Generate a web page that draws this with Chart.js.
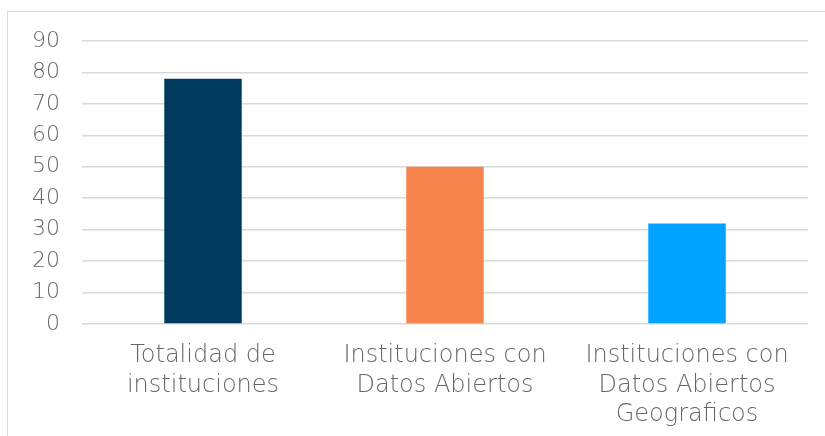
<!DOCTYPE html>
<html>
<head>
<meta charset="utf-8">
<script src="https://cdn.jsdelivr.net/npm/chart.js@4/dist/chart.umd.min.js"></script>
<style>
  html, body { margin: 0; padding: 0; background: #fff; overflow: hidden; }
  #wrap { position: relative; width: 825px; height: 436px; }
  #frame { position: absolute; left: 7px; top: 11px; width: 830px; height: 440px; border: 1.5px solid #d9d9d9; box-sizing: border-box; }
  #myChart { position: absolute; left: 0; top: 0; }
</style>
</head>
<body>
<div id="wrap">
  <div id="frame"></div>
  <canvas id="myChart" width="825" height="436"></canvas>
</div>
<script>
var categories = [
    ['Totalidad de', 'instituciones'],
    ['Instituciones con', 'Datos Abiertos'],
    ['Instituciones con', 'Datos Abiertos', 'Geograficos']
];
var values = [78, 50, 32];
var barColors = ['#003a5c', '#f7834c', '#00a3ff'];
var yTicks = [0, 10, 20, 30, 40, 50, 60, 70, 80, 90];

var fontFamily = '"Century Gothic", "DejaVu Sans", sans-serif';

const ctx = document.getElementById('myChart');
var mchart = new Chart(ctx, {
    type: 'bar',
    data: {
        labels: categories,
        datasets: [{
            data: values,
            backgroundColor: barColors,
            barPercentage: 0.32,
            categoryPercentage: 1.0
        }]
    },
    options: {
        responsive: false,
        animation: false,
        layout: {
            padding: { top: 41, right: 17, left: 0, bottom: 0 }
        },
        plugins: {
            legend: { display: false },
            tooltip: { enabled: false }
        },
        scales: {
            x: {
                grid: { display: false, drawTicks: false },
                border: { display: false },
                ticks: {
                    color: '#666666',
                    padding: 17,
                    maxRotation: 0,
                    autoSkip: false,
                    font: { family: fontFamily, size: 24, weight: 200, lineHeight: 1.23 }
                },
                afterFit: function (axis) { axis.height = 112; }
            },
            y: {
                min: 0,
                max: 90,
                afterBuildTicks: function (axis) {
                    axis.ticks = yTicks.map(function (v) { return { value: v }; });
                },
                grid: { color: '#d9d9d9', lineWidth: 1.5, drawTicks: false },
                border: { display: false },
                ticks: {
                    color: '#666666',
                    padding: 22,
                    font: { family: fontFamily, size: 22, weight: 200 }
                },
                afterFit: function (axis) { axis.width = 82; }
            }
        }
    }
});
</script>
</body>
</html>
